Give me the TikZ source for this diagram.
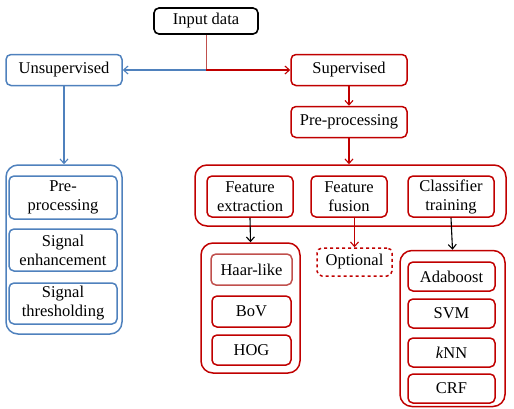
\documentclass[tikz,border=0pt]{standalone}
\usepackage{fontspec}
\setmainfont{Liberation Serif}
\usetikzlibrary{arrows.meta}
\definecolor{bl}{RGB}{79,129,189}
\definecolor{rd}{RGB}{192,0,0}
\definecolor{lrd}{RGB}{192,80,77}
\tikzset{
  bx/.style={draw, rounded corners=5pt, line width=1.5pt, align=center, inner sep=0pt,
    font=\fontsize{16.5}{19}\selectfont},
  rbox/.style={bx, draw=rd},
  bbox/.style={bx, draw=bl},
  outer/.style={draw, rounded corners=12pt, line width=1.5pt, inner sep=0pt},
  arr/.style={-{Straight Barb[length=4.5pt,width=8pt]}, line width=1.1pt},
}
\begin{document}
\begin{tikzpicture}[x=1pt,y=-1pt]
\useasboundingbox (0,0) rectangle (514,408);
% top
\node[bx, draw=black, line width=1.6pt, minimum width=104pt, minimum height=26pt] (in) at (206,21) {Input data};
\node[bbox, minimum width=116pt, minimum height=31pt] (unsup) at (64,70) {Unsupervised};
\node[rbox, minimum width=116pt, minimum height=31pt] (sup) at (349,70) {Supervised};
\node[rbox, minimum width=116pt, minimum height=31pt] (pre) at (349,122) {Pre-processing};
\coordinate (split) at (206,70);
\draw[lrd, line width=1pt] (in.south) -- (split);
\draw[arr, rd] (split) -- (sup.west);
\draw[arr, bl] (split) -- (unsup.east);
\draw[arr, rd] (sup.south) -- (pre.north);
% unsupervised column
\node[outer, draw=bl, minimum width=116pt, minimum height=169pt] (ubox) at (64,249.5) {};
\node[bbox, minimum width=108pt, minimum height=43pt] (upre) at (63,197.5) {Pre-\\processing};
\node[bbox, minimum width=108pt, minimum height=42pt] (uenh) at (63,250) {Signal\\enhancement};
\node[bbox, minimum width=108pt, minimum height=41pt] (uthr) at (63,303.5) {Signal\\thresholding};
\draw[arr, bl] (unsup.south) -- (ubox.north);
% supervised group
\node[outer, draw=rd, minimum width=311pt, minimum height=61pt] (sbox) at (350.5,195.5) {};
\draw[arr, rd] (pre.south) -- (pre.south |- sbox.north);
\node[rbox, minimum width=86pt, minimum height=41pt] (fe) at (250,196.5) {Feature\\extraction};
\node[rbox, minimum width=76pt, minimum height=41pt] (ff) at (349,196.5) {Feature\\fusion};
\node[rbox, minimum width=86pt, minimum height=41pt] (ct) at (451,196.5) {Classifier\\training};
% features
\node[outer, draw=rd, minimum width=99pt, minimum height=130pt] (hbox) at (250.5,308) {};
\node[bx, draw=lrd, minimum width=81pt, minimum height=31pt] (haar) at (251.5,269.5) {Haar-like};
\node[rbox, minimum width=79pt, minimum height=31pt] (bov) at (251.5,311.5) {BoV};
\node[rbox, minimum width=79pt, minimum height=30pt] (hog) at (251.5,350) {HOG};
\draw[arr, black] (fe.south) -- (hbox.north);
% optional
\node[rbox, dashed, minimum width=75pt, minimum height=28pt] (opt) at (354.5,262) {Optional};
\draw[arr, rd] (opt.north |- ff.south) -- (opt.north);
% classifiers
\node[outer, draw=rd, minimum width=105pt, minimum height=156pt] (cbox) at (452.5,328.5) {};
\node[rbox, minimum width=87pt, minimum height=29pt] (ada) at (451.5,276.5) {Adaboost};
\node[rbox, minimum width=87pt, minimum height=29pt] (svm) at (451.5,313.5) {SVM};
\node[rbox, minimum width=87pt, minimum height=29pt] (knn) at (451.5,352.5) {\textit{k}NN};
\node[rbox, minimum width=87pt, minimum height=29pt] (crf) at (451.5,388.5) {CRF};
\draw[arr, black] (ct.south) -- (cbox.north);
\end{tikzpicture}
\end{document}
